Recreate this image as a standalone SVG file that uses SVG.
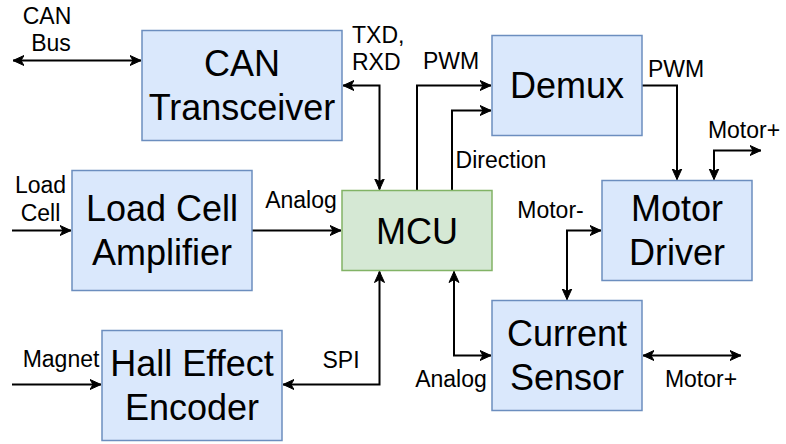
<svg xmlns="http://www.w3.org/2000/svg" width="786" height="444" viewBox="0 0 786 444">
<style>
.box{fill:#dae8fc;stroke:#6c8ebf;stroke-width:1.5}
.mcu{fill:#d5e8d4;stroke:#82b366;stroke-width:1.5}
.big{font-family:"Liberation Sans",Arial,sans-serif;font-size:36px;fill:#000;text-anchor:middle}
.lbl{font-family:"Liberation Sans",Arial,sans-serif;font-size:23px;fill:#000;text-anchor:middle}
.c{fill:none;stroke:#000;stroke-width:2}
.a1{marker-end:url(#arr)}
.a2{marker-start:url(#arr);marker-end:url(#arr)}
</style>
<defs>
<marker id="arr" markerUnits="userSpaceOnUse" markerWidth="12" markerHeight="12" viewBox="0 0 12 12" refX="11" refY="6" orient="auto-start-reverse">
<path d="M0,1 L11,6 L0,11 L3,6 Z" fill="#000" stroke="#000" stroke-width="1" stroke-linejoin="miter"/>
</marker>
</defs>
<rect width="786" height="444" fill="#fff"/>
<g id="connectors">
<path class="c a2" d="M13,60.5 H141"/>
<path class="c a2" d="M379.5,189.5 V85.5 H343"/>
<path class="c a1" d="M12,230.5 H71"/>
<path class="c a1" d="M252,230.5 H341"/>
<path class="c a2" d="M379.5,271.5 V384.5 H283"/>
<path class="c a1" d="M12,384.5 H101"/>
<path class="c a1" d="M417,190 V85.5 H491"/>
<path class="c a1" d="M452,190 V110.5 H491"/>
<path class="c a1" d="M642,85.5 H677 V179.5"/>
<path class="c a2" d="M714,179.5 V150.5 H761"/>
<path class="c a2" d="M601,230.5 H567 V299.5"/>
<path class="c a2" d="M454,271.5 V355.5 H491"/>
<path class="c a2" d="M643,355.5 H741"/>
<text class="lbl" x="47" y="24">CAN</text>
<text class="lbl" x="51" y="51">Bus</text>
<text class="lbl" x="352" y="43" style="text-anchor:start">TXD,</text>
<text class="lbl" x="352" y="70" style="text-anchor:start">RXD</text>
<text class="lbl" x="451" y="69">PWM</text>
<text class="lbl" x="676" y="77">PWM</text>
<text class="lbl" x="744" y="138">Motor+</text>
<text class="lbl" x="501" y="168">Direction</text>
<text class="lbl" x="40.5" y="193">Load</text>
<text class="lbl" x="40.5" y="221">Cell</text>
<text class="lbl" x="301" y="208">Analog</text>
<text class="lbl" x="550.5" y="218">Motor-</text>
<text class="lbl" x="451" y="387">Analog</text>
<text class="lbl" x="701" y="387">Motor+</text>
<text class="lbl" x="61" y="367">Magnet</text>
<text class="lbl" x="341" y="368">SPI</text>
</g>
<g id="can">
<rect class="box" x="142" y="30.5" width="200" height="110"/>
<text class="big" x="242" y="76.25">CAN</text>
<text class="big" x="242" y="119.75">Transceiver</text>
</g>
<g id="lca">
<rect class="box" x="72" y="170.5" width="180" height="120"/>
<text class="big" x="162" y="221.25">Load Cell</text>
<text class="big" x="162" y="264.75">Amplifier</text>
</g>
<g id="mcu">
<rect class="mcu" x="342" y="190.5" width="150" height="80"/>
<text class="big" x="417" y="243.5">MCU</text>
</g>
<g id="demux">
<rect class="box" x="492" y="35.5" width="150" height="100"/>
<text class="big" x="567" y="98">Demux</text>
</g>
<g id="motordriver">
<rect class="box" x="602" y="180.5" width="150" height="100"/>
<text class="big" x="677" y="221.25">Motor</text>
<text class="big" x="677" y="264.75">Driver</text>
</g>
<g id="currentsensor">
<rect class="box" x="492" y="300.5" width="150" height="110"/>
<text class="big" x="567" y="346.25">Current</text>
<text class="big" x="567" y="389.75">Sensor</text>
</g>
<g id="hall">
<rect class="box" x="102" y="330.5" width="180" height="110"/>
<text class="big" x="192" y="376.25">Hall Effect</text>
<text class="big" x="192" y="419.75">Encoder</text>
</g>
</svg>
